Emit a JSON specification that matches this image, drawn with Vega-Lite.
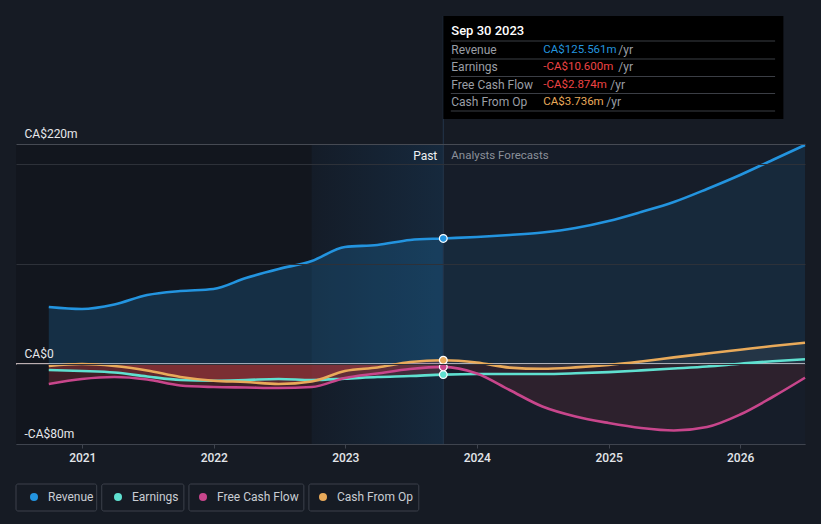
{
  "$schema": "https://vega.github.io/schema/vega-lite/v6.json",
  "width": 789,
  "height": 300,
  "autosize": {"type": "none"},
  "padding": {"left": 16, "top": 144, "right": 16, "bottom": 80},
  "background": "#161b24",
  "config": {"font": "Roboto", "view": {"stroke": null}},
  "data": {"values": [{}]},
  "datasets": {
    "series": [
      {"date": "2020-09-30", "series": "Revenue", "value": 57},
      {"date": "2020-12-31", "series": "Revenue", "value": 55},
      {"date": "2021-03-31", "series": "Revenue", "value": 59.5},
      {"date": "2021-06-30", "series": "Revenue", "value": 69},
      {"date": "2021-09-30", "series": "Revenue", "value": 73},
      {"date": "2021-12-31", "series": "Revenue", "value": 75},
      {"date": "2022-03-31", "series": "Revenue", "value": 86},
      {"date": "2022-06-30", "series": "Revenue", "value": 95},
      {"date": "2022-09-30", "series": "Revenue", "value": 103},
      {"date": "2022-12-31", "series": "Revenue", "value": 117},
      {"date": "2023-03-31", "series": "Revenue", "value": 119},
      {"date": "2023-06-30", "series": "Revenue", "value": 124},
      {"date": "2023-09-30", "series": "Revenue", "value": 125.561},
      {"date": "2024-01-01", "series": "Revenue", "value": 127},
      {"date": "2024-04-01", "series": "Revenue", "value": 129},
      {"date": "2024-07-01", "series": "Revenue", "value": 131.5},
      {"date": "2024-10-01", "series": "Revenue", "value": 136},
      {"date": "2025-01-01", "series": "Revenue", "value": 143},
      {"date": "2025-04-01", "series": "Revenue", "value": 152},
      {"date": "2025-07-01", "series": "Revenue", "value": 162},
      {"date": "2025-10-01", "series": "Revenue", "value": 175},
      {"date": "2026-01-01", "series": "Revenue", "value": 189},
      {"date": "2026-04-01", "series": "Revenue", "value": 204},
      {"date": "2026-06-30", "series": "Revenue", "value": 219},

      {"date": "2020-09-30", "series": "Earnings", "value": -6},
      {"date": "2020-12-31", "series": "Earnings", "value": -7},
      {"date": "2021-03-31", "series": "Earnings", "value": -8.5},
      {"date": "2021-06-30", "series": "Earnings", "value": -12.5},
      {"date": "2021-09-30", "series": "Earnings", "value": -16},
      {"date": "2021-12-31", "series": "Earnings", "value": -16.7},
      {"date": "2022-03-31", "series": "Earnings", "value": -16},
      {"date": "2022-06-30", "series": "Earnings", "value": -15},
      {"date": "2022-09-30", "series": "Earnings", "value": -16},
      {"date": "2022-12-31", "series": "Earnings", "value": -14.7},
      {"date": "2023-03-31", "series": "Earnings", "value": -13},
      {"date": "2023-06-30", "series": "Earnings", "value": -12},
      {"date": "2023-09-30", "series": "Earnings", "value": -10.6},
      {"date": "2024-01-01", "series": "Earnings", "value": -10},
      {"date": "2024-04-01", "series": "Earnings", "value": -10},
      {"date": "2024-07-01", "series": "Earnings", "value": -10},
      {"date": "2024-10-01", "series": "Earnings", "value": -9.3},
      {"date": "2025-01-01", "series": "Earnings", "value": -8.1},
      {"date": "2025-04-01", "series": "Earnings", "value": -6.4},
      {"date": "2025-07-01", "series": "Earnings", "value": -4.5},
      {"date": "2025-10-01", "series": "Earnings", "value": -2.5},
      {"date": "2026-01-01", "series": "Earnings", "value": 0.3},
      {"date": "2026-04-01", "series": "Earnings", "value": 2.8},
      {"date": "2026-06-30", "series": "Earnings", "value": 4.7},

      {"date": "2020-09-30", "series": "Free Cash Flow", "value": -20},
      {"date": "2020-12-31", "series": "Free Cash Flow", "value": -15},
      {"date": "2021-03-31", "series": "Free Cash Flow", "value": -13},
      {"date": "2021-06-30", "series": "Free Cash Flow", "value": -15.5},
      {"date": "2021-09-30", "series": "Free Cash Flow", "value": -21.5},
      {"date": "2021-12-31", "series": "Free Cash Flow", "value": -23},
      {"date": "2022-03-31", "series": "Free Cash Flow", "value": -23.5},
      {"date": "2022-06-30", "series": "Free Cash Flow", "value": -24},
      {"date": "2022-09-30", "series": "Free Cash Flow", "value": -23},
      {"date": "2022-12-31", "series": "Free Cash Flow", "value": -14},
      {"date": "2023-03-31", "series": "Free Cash Flow", "value": -9.5},
      {"date": "2023-06-30", "series": "Free Cash Flow", "value": -5},
      {"date": "2023-09-30", "series": "Free Cash Flow", "value": -2.874},
      {"date": "2024-01-01", "series": "Free Cash Flow", "value": -9.5},
      {"date": "2024-04-01", "series": "Free Cash Flow", "value": -26},
      {"date": "2024-07-01", "series": "Free Cash Flow", "value": -42.5},
      {"date": "2024-10-01", "series": "Free Cash Flow", "value": -52.5},
      {"date": "2025-01-01", "series": "Free Cash Flow", "value": -59},
      {"date": "2025-04-01", "series": "Free Cash Flow", "value": -64},
      {"date": "2025-07-01", "series": "Free Cash Flow", "value": -66.5},
      {"date": "2025-10-01", "series": "Free Cash Flow", "value": -63},
      {"date": "2026-01-01", "series": "Free Cash Flow", "value": -50.5},
      {"date": "2026-04-01", "series": "Free Cash Flow", "value": -33},
      {"date": "2026-06-30", "series": "Free Cash Flow", "value": -13.7},

      {"date": "2020-09-30", "series": "Cash From Op", "value": -2},
      {"date": "2020-12-31", "series": "Cash From Op", "value": 0},
      {"date": "2021-03-31", "series": "Cash From Op", "value": -2},
      {"date": "2021-06-30", "series": "Cash From Op", "value": -6.5},
      {"date": "2021-09-30", "series": "Cash From Op", "value": -13},
      {"date": "2021-12-31", "series": "Cash From Op", "value": -16.7},
      {"date": "2022-03-31", "series": "Cash From Op", "value": -18},
      {"date": "2022-06-30", "series": "Cash From Op", "value": -20},
      {"date": "2022-09-30", "series": "Cash From Op", "value": -17.5},
      {"date": "2022-12-31", "series": "Cash From Op", "value": -7},
      {"date": "2023-03-31", "series": "Cash From Op", "value": -3.5},
      {"date": "2023-06-30", "series": "Cash From Op", "value": 2},
      {"date": "2023-09-30", "series": "Cash From Op", "value": 3.736},
      {"date": "2024-01-01", "series": "Cash From Op", "value": 1.5},
      {"date": "2024-04-01", "series": "Cash From Op", "value": -3.6},
      {"date": "2024-07-01", "series": "Cash From Op", "value": -4.8},
      {"date": "2024-10-01", "series": "Cash From Op", "value": -3.4},
      {"date": "2025-01-01", "series": "Cash From Op", "value": -1},
      {"date": "2025-04-01", "series": "Cash From Op", "value": 2.5},
      {"date": "2025-07-01", "series": "Cash From Op", "value": 6.6},
      {"date": "2025-10-01", "series": "Cash From Op", "value": 10.5},
      {"date": "2026-01-01", "series": "Cash From Op", "value": 14.3},
      {"date": "2026-04-01", "series": "Cash From Op", "value": 18},
      {"date": "2026-06-30", "series": "Cash From Op", "value": 21.3}
    ],
    "zones": [
      {"start": "2020-07-01", "end": "2022-09-30", "zone": "past"},
      {"start": "2022-09-30", "end": "2023-09-30", "zone": "recent"},
      {"start": "2023-09-30", "end": "2026-06-30", "zone": "forecast"}
    ]
  },
  "layer": [
    {
      "data": {"name": "zones"},
      "transform": [{"filter": "datum.zone == 'past'"}],
      "mark": {"type": "rect", "color": "#12161e"},
      "encoding": {"x": {"field": "start", "type": "temporal", "axis": {"title": null}}, "x2": {"field": "end"}}
    },
    {
      "data": {"name": "zones"},
      "transform": [{"filter": "datum.zone == 'recent'"}],
      "mark": {
        "type": "rect",
        "color": {"gradient": "linear", "x1": 0, "y1": 0, "x2": 1, "y2": 0,
          "stops": [{"offset": 0, "color": "#141c28"}, {"offset": 1, "color": "#16293d"}]}
      },
      "encoding": {"x": {"field": "start", "type": "temporal", "axis": {"title": null}}, "x2": {"field": "end"}}
    },
    {
      "data": {"name": "zones"},
      "transform": [{"filter": "datum.zone == 'forecast'"}],
      "mark": {"type": "rect", "color": "#161d29"},
      "encoding": {"x": {"field": "start", "type": "temporal", "axis": {"title": null}}, "x2": {"field": "end"}}
    },
    {
      "mark": {"type": "rule", "color": "#f4e2e2", "strokeWidth": 1.5},
      "encoding": {"y": {"datum": 0, "type": "quantitative", "axis": {"title": null}}}
    },
    {
      "data": {"name": "series"},
      "encoding": {
        "x": {
          "field": "date",
          "type": "temporal",
          "scale": {"domain": [{"year": 2020, "month": 7, "date": 1}, {"year": 2026, "month": 6, "date": 30}]},
          "axis": {
            "title": null,
            "values": [
              {"year": 2021, "month": 1, "date": 1},
              {"year": 2022, "month": 1, "date": 1},
              {"year": 2023, "month": 1, "date": 1},
              {"year": 2024, "month": 1, "date": 1},
              {"year": 2025, "month": 1, "date": 1},
              {"year": 2026, "month": 1, "date": 1}
            ],
            "format": "%Y",
            "labelColor": "#e3e6ea",
            "labelFontSize": 12,
            "labelFontWeight": 500,
            "labelPadding": 4,
            "tickSize": 4,
            "tickColor": "#3f444e",
            "domainColor": "#3f444e",
            "grid": false,
            "zindex": 1
          }
        },
        "y": {
          "field": "value",
          "type": "quantitative",
          "scale": {"domain": [-80, 220], "nice": false, "zero": false},
          "axis": {
            "title": null,
            "values": [-80, 0, 100, 200, 220],
            "labelExpr": "datum.value == 220 ? 'CA$220m' : datum.value == 0 ? 'CA$0' : datum.value == -80 ? '-CA$80m' : ''",
            "labelAlign": "left",
            "labelBaseline": "bottom",
            "labelPadding": -8,
            "labelOffset": -4,
            "labelColor": "#e6e8eb",
            "labelFontSize": 12,
            "domain": false,
            "ticks": false,
            "grid": true,
            "gridColor": {"condition": {"test": "datum.value == 220", "value": "#464a53"}, "value": "#2d3139"},
            "gridWidth": 1,
            "zindex": 1
          }
        }
      },
      "layer": [
        {
          "transform": [{"filter": "datum.series == 'Revenue' && +toDate(datum.date) <= +toDate('2023-09-30')"}],
          "mark": {"type": "area", "interpolate": "monotone", "color": "#2394df", "opacity": 0.2},
          "encoding": {"y2": {"datum": 0}}
        },
        {
          "transform": [{"filter": "datum.series == 'Revenue' && +toDate(datum.date) >= +toDate('2023-09-30')"}],
          "mark": {"type": "area", "interpolate": "monotone", "color": "#2394df", "opacity": 0.1},
          "encoding": {"y2": {"datum": 0}}
        },
        {
          "transform": [{"filter": "datum.series != 'Revenue' && +toDate(datum.date) <= +toDate('2023-09-30')"}],
          "mark": {"type": "area", "interpolate": "monotone", "color": "#d9444a", "opacity": 0.22},
          "encoding": {"y2": {"datum": 0}, "detail": {"field": "series"}}
        },
        {
          "transform": [{"filter": "datum.series == 'Free Cash Flow' && +toDate(datum.date) >= +toDate('2023-09-30')"}],
          "mark": {"type": "area", "interpolate": "monotone", "color": "#d9444a", "opacity": 0.12},
          "encoding": {"y2": {"datum": 0}}
        },
        {
          "transform": [{"filter": "datum.series == 'Cash From Op' && +toDate(datum.date) >= +toDate('2023-09-30')"}],
          "mark": {"type": "area", "interpolate": "monotone", "color": "#a0a4a8", "opacity": 0.1},
          "encoding": {"y2": {"datum": 0}}
        },
        {
          "transform": [{"filter": "datum.series == 'Revenue' && +toDate(datum.date) == +toDate('2023-09-30')"}],
          "mark": {"type": "rule", "color": "#24364c", "strokeWidth": 1},
          "encoding": {"y": {"datum": -80}, "y2": {"datum": 348}}
        },
        {
          "mark": {"type": "line", "interpolate": "monotone", "strokeWidth": 2.6},
          "encoding": {
            "color": {
              "field": "series",
              "type": "nominal",
              "scale": {"domain": ["Revenue", "Earnings", "Free Cash Flow", "Cash From Op"], "range": ["#2394df", "#5fe0d0", "#c8468c", "#e9aa5a"]},
              "legend": {
                "title": null,
                "orient": "none",
                "direction": "horizontal",
                "legendX": 12,
                "legendY": 347,
                "columns": 4,
                "columnPadding": 18,
                "padding": 0,
                "symbolType": "circle",
                "symbolSize": 64,
                "symbolStrokeWidth": 0,
                "symbolOpacity": 1,
                "labelColor": "#c9cdd3",
                "labelFontSize": 12,
                "labelOffset": 8
              }
            }
          }
        },
        {
          "transform": [{"filter": "+toDate(datum.date) == +toDate('2023-09-30')"}],
          "mark": {"type": "point", "filled": true, "opacity": 1, "size": 60, "stroke": "#ffffff", "strokeWidth": 1.2},
          "encoding": {
            "color": {"field": "series", "type": "nominal"},
            "stroke": {"value": "#ffffff"}
          }
        }
      ]
    },
    {"mark": {"type": "rect", "fill": null, "stroke": "#3c414b", "strokeWidth": 1, "cornerRadius": 2}, "encoding": {"x": {"datum": {"year": 2020, "month": 7, "date": 1}, "type": "temporal"}, "x2": {"datum": {"year": 2021, "month": 2, "date": 10}}, "y": {"datum": -120}, "y2": {"datum": -147}}},
    {"mark": {"type": "rect", "fill": null, "stroke": "#3c414b", "strokeWidth": 1, "cornerRadius": 2}, "encoding": {"x": {"datum": {"year": 2021, "month": 2, "date": 24}, "type": "temporal"}, "x2": {"datum": {"year": 2021, "month": 10, "date": 10}}, "y": {"datum": -120}, "y2": {"datum": -147}}},
    {"mark": {"type": "rect", "fill": null, "stroke": "#3c414b", "strokeWidth": 1, "cornerRadius": 2}, "encoding": {"x": {"datum": {"year": 2021, "month": 10, "date": 24}, "type": "temporal"}, "x2": {"datum": {"year": 2022, "month": 9, "date": 8}}, "y": {"datum": -120}, "y2": {"datum": -147}}},
    {"mark": {"type": "rect", "fill": null, "stroke": "#3c414b", "strokeWidth": 1, "cornerRadius": 2}, "encoding": {"x": {"datum": {"year": 2022, "month": 9, "date": 22}, "type": "temporal"}, "x2": {"datum": {"year": 2023, "month": 7, "date": 24}}, "y": {"datum": -120}, "y2": {"datum": -147}}},
    {
      "mark": {"type": "text", "text": "Past", "align": "right", "baseline": "middle", "dx": -6, "color": "#eef0f2", "fontSize": 12},
      "encoding": {"x": {"datum": {"year": 2023, "month": 9, "date": 30}, "type": "temporal"}, "y": {"datum": 208}}
    },
    {
      "mark": {"type": "text", "text": "Analysts Forecasts", "align": "left", "baseline": "middle", "dx": 8, "color": "#8b9099", "fontSize": 11.5},
      "encoding": {"x": {"datum": {"year": 2023, "month": 9, "date": 30}, "type": "temporal"}, "y": {"datum": 208}}
    },
    {
      "mark": {"type": "rect", "color": "#000000"},
      "encoding": {
        "x": {"datum": {"year": 2023, "month": 9, "date": 30}, "type": "temporal"},
        "x2": {"datum": {"year": 2026, "month": 5, "date": 1}},
        "y": {"datum": 245},
        "y2": {"datum": 348}
      }
    },
    {
      "mark": {"type": "text", "text": "Sep 30 2023", "align": "left", "baseline": "middle", "dx": 8, "color": "#ffffff", "fontSize": 13, "fontWeight": 500},
      "encoding": {"x": {"datum": {"year": 2023, "month": 9, "date": 30}, "type": "temporal"}, "y": {"datum": 333}}
    },
    {"mark": {"type": "rule", "color": "#3b3e45"}, "encoding": {"x": {"datum": {"year": 2023, "month": 10, "date": 21}, "type": "temporal"}, "x2": {"datum": {"year": 2026, "month": 4, "date": 8}}, "y": {"datum": 323}}},
    {"mark": {"type": "rule", "color": "#3b3e45"}, "encoding": {"x": {"datum": {"year": 2023, "month": 10, "date": 21}, "type": "temporal"}, "x2": {"datum": {"year": 2026, "month": 4, "date": 8}}, "y": {"datum": 305}}},
    {"mark": {"type": "rule", "color": "#3b3e45"}, "encoding": {"x": {"datum": {"year": 2023, "month": 10, "date": 21}, "type": "temporal"}, "x2": {"datum": {"year": 2026, "month": 4, "date": 8}}, "y": {"datum": 287.5}}},
    {"mark": {"type": "rule", "color": "#3b3e45"}, "encoding": {"x": {"datum": {"year": 2023, "month": 10, "date": 21}, "type": "temporal"}, "x2": {"datum": {"year": 2026, "month": 4, "date": 8}}, "y": {"datum": 270.5}}},
    {"mark": {"type": "rule", "color": "#3b3e45"}, "encoding": {"x": {"datum": {"year": 2023, "month": 10, "date": 21}, "type": "temporal"}, "x2": {"datum": {"year": 2026, "month": 4, "date": 8}}, "y": {"datum": 253}}},

    {"mark": {"type": "text", "text": "Revenue", "align": "left", "baseline": "middle", "dx": 8, "color": "#9a9ea5", "fontSize": 12}, "encoding": {"x": {"datum": {"year": 2023, "month": 9, "date": 30}, "type": "temporal"}, "y": {"datum": 314.5}}},
    {"mark": {"type": "text", "text": "CA$125.561m", "align": "left", "baseline": "middle", "dx": 100, "color": "#2394df", "fontSize": 11.5}, "encoding": {"x": {"datum": {"year": 2023, "month": 9, "date": 30}, "type": "temporal"}, "y": {"datum": 314.5}}},
    {"mark": {"type": "text", "text": "/yr", "align": "left", "baseline": "middle", "dx": 175, "color": "#9a9ea5", "fontSize": 12}, "encoding": {"x": {"datum": {"year": 2023, "month": 9, "date": 30}, "type": "temporal"}, "y": {"datum": 314.5}}},

    {"mark": {"type": "text", "text": "Earnings", "align": "left", "baseline": "middle", "dx": 8, "color": "#9a9ea5", "fontSize": 12}, "encoding": {"x": {"datum": {"year": 2023, "month": 9, "date": 30}, "type": "temporal"}, "y": {"datum": 297}}},
    {"mark": {"type": "text", "text": "-CA$10.600m", "align": "left", "baseline": "middle", "dx": 100, "color": "#ee4444", "fontSize": 11.5}, "encoding": {"x": {"datum": {"year": 2023, "month": 9, "date": 30}, "type": "temporal"}, "y": {"datum": 297}}},
    {"mark": {"type": "text", "text": "/yr", "align": "left", "baseline": "middle", "dx": 175, "color": "#9a9ea5", "fontSize": 12}, "encoding": {"x": {"datum": {"year": 2023, "month": 9, "date": 30}, "type": "temporal"}, "y": {"datum": 297}}},

    {"mark": {"type": "text", "text": "Free Cash Flow", "align": "left", "baseline": "middle", "dx": 8, "color": "#9a9ea5", "fontSize": 12}, "encoding": {"x": {"datum": {"year": 2023, "month": 9, "date": 30}, "type": "temporal"}, "y": {"datum": 279.5}}},
    {"mark": {"type": "text", "text": "-CA$2.874m", "align": "left", "baseline": "middle", "dx": 100, "color": "#ee4444", "fontSize": 11.5}, "encoding": {"x": {"datum": {"year": 2023, "month": 9, "date": 30}, "type": "temporal"}, "y": {"datum": 279.5}}},
    {"mark": {"type": "text", "text": "/yr", "align": "left", "baseline": "middle", "dx": 167, "color": "#9a9ea5", "fontSize": 12}, "encoding": {"x": {"datum": {"year": 2023, "month": 9, "date": 30}, "type": "temporal"}, "y": {"datum": 279.5}}},

    {"mark": {"type": "text", "text": "Cash From Op", "align": "left", "baseline": "middle", "dx": 8, "color": "#9a9ea5", "fontSize": 12}, "encoding": {"x": {"datum": {"year": 2023, "month": 9, "date": 30}, "type": "temporal"}, "y": {"datum": 262.5}}},
    {"mark": {"type": "text", "text": "CA$3.736m", "align": "left", "baseline": "middle", "dx": 100, "color": "#e9aa5a", "fontSize": 11.5}, "encoding": {"x": {"datum": {"year": 2023, "month": 9, "date": 30}, "type": "temporal"}, "y": {"datum": 262.5}}},
    {"mark": {"type": "text", "text": "/yr", "align": "left", "baseline": "middle", "dx": 163, "color": "#9a9ea5", "fontSize": 12}, "encoding": {"x": {"datum": {"year": 2023, "month": 9, "date": 30}, "type": "temporal"}, "y": {"datum": 262.5}}}
  ]
}
